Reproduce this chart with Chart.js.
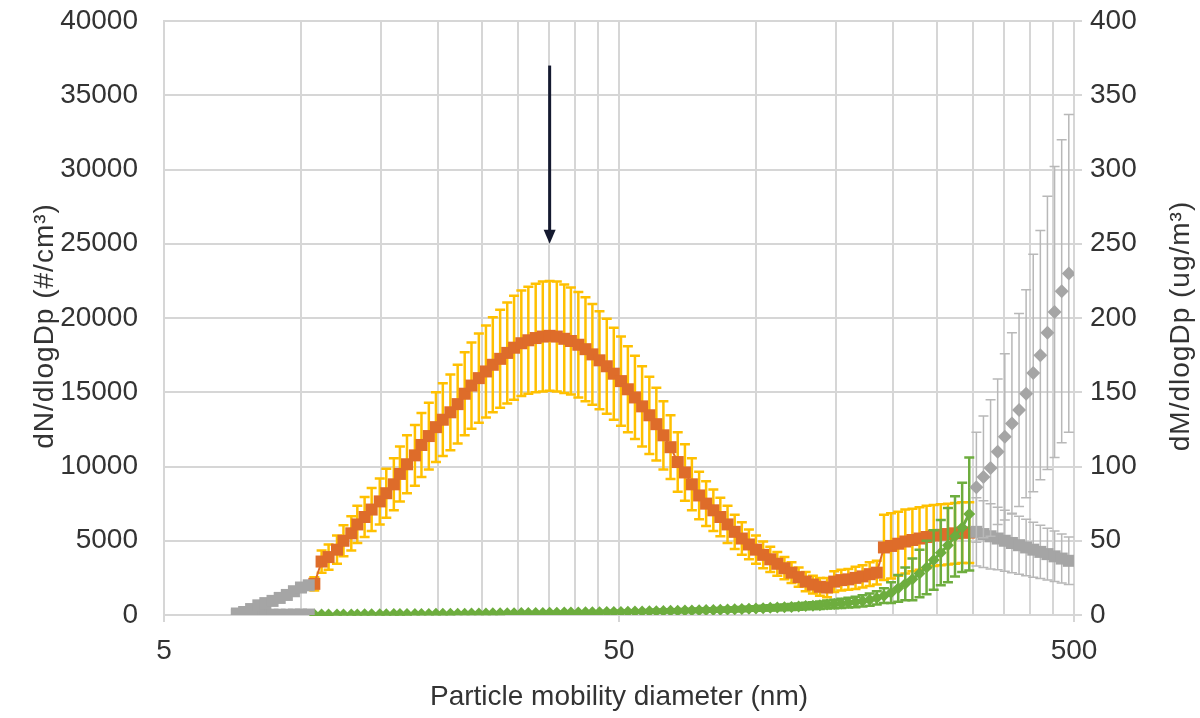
<!DOCTYPE html>
<html>
<head>
<meta charset="utf-8">
<title>Particle size distribution</title>
<script src="https://cdn.jsdelivr.net/npm/chart.js@4.4.1/dist/chart.umd.min.js"></script>
<style>
  html, body { margin: 0; padding: 0; background: #fff; }
  #wrap { width: 1200px; height: 718px; }
</style>
</head>
<body>
<div id="wrap"><canvas id="chart" width="1200" height="718"></canvas></div>
<script>
// SMPS channel diameters (nm), 64 per decade
var smallDiam = [7.23, 7.50, 7.77, 8.06, 8.35, 8.66, 8.98, 9.31, 9.65, 10.0, 10.4];
var mainDiam = [10.7, 11.1, 11.5, 12.0, 12.4, 12.9, 13.3, 13.8, 14.3, 14.9,
  15.4, 16.0, 16.5, 17.1, 17.8, 18.4, 19.1, 19.8, 20.5, 21.3,
  22.1, 22.9, 23.7, 24.6, 25.5, 26.4, 27.4, 28.4, 29.4, 30.5,
  31.6, 32.8, 34.0, 35.2, 36.5, 37.9, 39.2, 40.7, 42.2, 43.7,
  45.3, 47.0, 48.7, 50.5, 52.3, 54.2, 56.2, 58.3, 60.4, 62.6,
  64.9, 67.3, 69.8, 72.3, 75.0, 77.7, 80.6, 83.5, 86.6, 89.8,
  93.1, 96.5, 100.0, 103.7, 107.5, 111.4, 115.5, 119.7, 124.1, 128.6,
  133.4, 138.2, 143.3, 148.6, 154.0, 159.6, 165.5, 171.5, 177.8, 184.3,
  191.1, 198.1, 205.4, 212.9, 220.7, 228.8, 237.1, 245.8, 254.8, 264.2,
  273.8, 283.9, 294.3];
var largeDiam = [305.1, 316.2, 327.8, 339.8, 352.3, 365.2, 378.6, 392.4, 406.8, 421.7, 437.1, 453.2, 469.8, 487.0];

// number distribution dN/dlogDp (#/cm3) and its spread
var numMain = [2100, 3600, 3900, 4400, 5000, 5500, 6100, 6600, 7100, 7650,
  8200, 8800, 9500, 10150, 10750, 11450, 12050, 12650, 13150, 13650,
  14200, 14900, 15450, 15950, 16400, 16850, 17250, 17650, 18000, 18300,
  18500, 18650, 18750, 18800, 18750, 18600, 18450, 18200, 17900, 17550,
  17150, 16750, 16250, 15750, 15200, 14650, 14050, 13450, 12850, 12100,
  11300, 10300, 9600, 8800, 8050, 7500, 7050, 6600, 6100, 5600,
  5150, 4750, 4400, 4050, 3750, 3450, 3150, 2850, 2550, 2250,
  2050, 1900, 1850, 2250, 2350, 2400, 2500, 2600, 2750, 2850,
  4550, 4650, 4800, 4950, 5050, 5150, 5250, 5350, 5400, 5450,
  5500, 5550, 5550];
var numMainErr = [450, 750, 850, 950, 1050, 1150, 1250, 1350, 1450, 1550,
  1650, 1750, 1850, 1950, 2050, 2150, 2250, 2350, 2450, 2550,
  2650, 2800, 2900, 3000, 3100, 3200, 3300, 3400, 3500, 3550,
  3600, 3650, 3700, 3700, 3700, 3650, 3600, 3550, 3500, 3400,
  3300, 3200, 3100, 3000, 2900, 2800, 2700, 2600, 2450, 2300,
  2150, 2000, 1900, 1750, 1600, 1500, 1400, 1300, 1250, 1150,
  1100, 1000, 950, 900, 850, 800, 750, 700, 650, 650,
  600, 600, 650, 700, 700, 700, 750, 750, 800, 800,
  2200, 2200, 2150, 2150, 2100, 2100, 2100, 2050, 2050, 2050,
  2050, 2050, 2050];

// mass distribution dM/dlogDp (ug/m3) and its spread
var massMain = [0.3, 0.3, 0.3, 0.4, 0.4, 0.4, 0.4, 0.5, 0.5, 0.5,
  0.5, 0.6, 0.6, 0.6, 0.7, 0.7, 0.7, 0.8, 0.8, 0.8,
  0.9, 0.9, 1.0, 1.0, 1.0, 1.1, 1.1, 1.2, 1.2, 1.3,
  1.3, 1.4, 1.4, 1.5, 1.5, 1.6, 1.6, 1.7, 1.8, 1.8,
  1.9, 2.0, 2.0, 2.1, 2.2, 2.3, 2.4, 2.5, 2.6, 2.7,
  2.8, 2.9, 3.0, 3.1, 3.2, 3.3, 3.4, 3.5, 3.7, 3.8,
  4.0, 4.2, 4.4, 4.6, 4.8, 5.0, 5.2, 5.4, 5.7, 6.0,
  6.3, 6.6, 7.0, 7.4, 7.8, 8.3, 8.8, 9.5, 10.3, 11.5,
  13, 15, 18, 21, 24, 28, 32, 37, 42, 47,
  53, 59, 68];
var massMainErr = [0.1, 0.1, 0.1, 0.1, 0.1, 0.1, 0.1, 0.1, 0.2, 0.2,
  0.2, 0.2, 0.2, 0.2, 0.2, 0.2, 0.2, 0.3, 0.3, 0.3,
  0.3, 0.3, 0.3, 0.3, 0.3, 0.4, 0.4, 0.4, 0.4, 0.4,
  0.4, 0.5, 0.5, 0.5, 0.5, 0.5, 0.5, 0.6, 0.6, 0.6,
  0.6, 0.7, 0.7, 0.7, 0.7, 0.8, 0.8, 0.8, 0.9, 0.9,
  0.9, 1.0, 1.0, 1.0, 1.1, 1.1, 1.2, 1.2, 1.3, 1.3,
  1.4, 1.4, 1.5, 1.6, 1.7, 1.8, 1.9, 2.0, 2.1, 2.2,
  2.3, 2.5, 2.7, 2.9, 3.1, 3.3, 3.5, 3.8, 4.1, 4.5,
  5, 7, 9, 11, 14, 16, 18, 20, 22, 25,
  27, 30, 38];

// channels outside the valid range (grey)
var numSmall = [100, 200, 400, 650, 800, 950, 1150, 1350, 1600, 1850, 2000];
var massSmall = [0.1, 0.1, 0.1, 0.2, 0.2, 0.2, 0.2, 0.2, 0.3, 0.3, 0.3];
var numLarge = [5600, 5450, 5300, 5150, 5000, 4850, 4700, 4550, 4400, 4250, 4100, 3950, 3800, 3650];
var numLargeErr = [2300, 2250, 2200, 2100, 2050, 2000, 1950, 1900, 1850, 1800, 1750, 1700, 1650, 1600];
var massLarge = [86, 93, 99, 110, 120, 129, 138, 149, 163, 175, 190, 204, 218, 230];
var massLargeErr = [37, 41, 46, 49, 56, 61, 65, 70, 80, 84, 92, 98, 102, 107];

// x axis grid positions and which of them get a label
var gridTicks = [5, 10, 15, 20, 25, 30, 35, 40, 45, 50, 100, 150, 200, 250, 300, 350, 400, 450, 500];
var labelTicks = [5, 50, 500];

var leftTitle = 'dN/dlogDp (#/cm³)';
var rightTitle = 'dM/dlogDp (ug/m³)';

// mode marker
var arrowAt = 35.2, arrowFrom = 37000, arrowTo = 25000;

var ORANGE = '#DE6C2A', YELLOW = '#FFC000', GREEN = '#6DAD3E', GREY = '#A5A5A5', GREY_ERR = '#B8B8B8';
var GRID = '#D6D6D6', TEXT = '#333333';
var FONT = 'Liberation Sans, Arial, sans-serif';

function pts(xs, ys) {
  return xs.map(function(x, i) { return {x: x, y: ys[i]}; });
}

// vertical error bars with caps, drawn just under each series' markers
var errorBars = {
  id: 'errorBars',
  beforeDatasetDraw: function(chart, args) {
    var ds = chart.data.datasets[args.index];
    if (!ds.err) return;
    var ctx = chart.ctx, xs = chart.scales.x, ys = chart.scales[ds.yAxisID];
    ctx.save();
    ctx.strokeStyle = ds.errColor;
    ctx.lineWidth = ds.errWidth;
    ds.data.forEach(function(p, i) {
      var x = xs.getPixelForValue(p.x);
      var hi = ys.getPixelForValue(p.y + ds.err[i]);
      var lo = ys.getPixelForValue(Math.max(0, p.y - ds.err[i]));
      ctx.beginPath();
      ctx.moveTo(x, hi); ctx.lineTo(x, lo);
      ctx.moveTo(x - 5, hi); ctx.lineTo(x + 5, hi);
      ctx.moveTo(x - 5, lo); ctx.lineTo(x + 5, lo);
      ctx.stroke();
    });
    ctx.restore();
  }
};

var arrow = {
  id: 'arrow',
  afterDatasetsDraw: function(chart) {
    var ctx = chart.ctx;
    var x = chart.scales.x.getPixelForValue(arrowAt);
    var y1 = chart.scales.y.getPixelForValue(arrowFrom);
    var y2 = chart.scales.y.getPixelForValue(arrowTo);
    ctx.save();
    ctx.strokeStyle = '#151a30';
    ctx.fillStyle = '#151a30';
    ctx.lineWidth = 3;
    ctx.beginPath(); ctx.moveTo(x, y1); ctx.lineTo(x, y2 - 10); ctx.stroke();
    ctx.beginPath(); ctx.moveTo(x - 6, y2 - 14); ctx.lineTo(x + 6, y2 - 14); ctx.lineTo(x, y2); ctx.closePath(); ctx.fill();
    ctx.restore();
  }
};

// both value-axis titles read bottom to top
var sideTitles = {
  id: 'sideTitles',
  afterDraw: function(chart) {
    var ctx = chart.ctx, a = chart.chartArea;
    var midY = (a.top + a.bottom) / 2 + 8;
    ctx.save();
    ctx.fillStyle = TEXT;
    ctx.font = '28px ' + FONT;
    ctx.textAlign = 'center';
    ctx.textBaseline = 'middle';
    if ('letterSpacing' in ctx) ctx.letterSpacing = '1px';
    [[45, leftTitle], [1181, rightTitle]].forEach(function(t) {
      ctx.save();
      ctx.translate(t[0], midY);
      ctx.rotate(-Math.PI / 2);
      ctx.fillText(t[1], 0, 0);
      ctx.restore();
    });
    ctx.restore();
  }
};

var datasets = [
  { data: pts(mainDiam, numMain), yAxisID: 'y', order: 5,
    borderColor: ORANGE, backgroundColor: ORANGE, borderWidth: 2,
    pointStyle: 'rect', pointRadius: 8.5, pointBorderWidth: 0,
    err: numMainErr, errColor: YELLOW, errWidth: 2.5 },
  { data: pts(mainDiam, massMain), yAxisID: 'y2', order: 4,
    borderColor: GREEN, backgroundColor: GREEN, borderWidth: 3,
    pointStyle: 'rectRot', pointRadius: 6, pointBorderWidth: 0,
    err: massMainErr, errColor: GREEN, errWidth: 2.5 },
  { data: pts(smallDiam, numSmall), yAxisID: 'y', order: 3,
    borderColor: GREY, backgroundColor: GREY, borderWidth: 2,
    pointStyle: 'rect', pointRadius: 8.5, pointBorderWidth: 0 },
  { data: pts(smallDiam, massSmall), yAxisID: 'y2', order: 3,
    borderColor: GREY, backgroundColor: GREY, borderWidth: 2,
    pointStyle: 'rect', pointRadius: 8.5, pointBorderWidth: 0 },
  { data: pts(largeDiam, numLarge), yAxisID: 'y', order: 3,
    borderColor: GREY, backgroundColor: GREY, borderWidth: 2,
    pointStyle: 'rect', pointRadius: 8.5, pointBorderWidth: 0,
    err: numLargeErr, errColor: GREY_ERR, errWidth: 1.5 },
  { data: pts(largeDiam, massLarge), yAxisID: 'y2', order: 2, showLine: false,
    borderColor: GREY, backgroundColor: GREY,
    pointStyle: 'rectRot', pointRadius: 7, pointBorderWidth: 0,
    err: massLargeErr, errColor: GREY_ERR, errWidth: 1.5 }
];

function plain(v) { return String(v); }

// keep tick padding from pushing the plot area down
function noVerticalPadding(s) { s.paddingTop = 0; s.paddingBottom = 0; }

new Chart(document.getElementById('chart'), {
  type: 'line',
  data: { datasets: datasets },
  plugins: [errorBars, arrow, sideTitles],
  options: {
    responsive: false,
    devicePixelRatio: 1,
    animation: false,
    layout: { padding: { top: 21, left: 0, right: 0, bottom: 0 } },
    plugins: { legend: { display: false }, tooltip: { enabled: false } },
    scales: {
      x: {
        type: 'logarithmic', min: 5, max: 500,
        afterBuildTicks: function(s) { s.ticks = gridTicks.map(function(v) { return {value: v}; }); },
        afterFit: function(s) { s.height = 103; },
        ticks: {
          autoSkip: false, maxRotation: 0, padding: 12, color: TEXT,
          font: { family: FONT, size: 28 },
          callback: function(v) { return labelTicks.indexOf(v) >= 0 ? String(v) : ''; }
        },
        grid: {
          color: GRID, lineWidth: 2, drawTicks: true, tickLength: 7,
          tickColor: function(c) { return c.tick && labelTicks.indexOf(c.tick.value) >= 0 ? GRID : 'rgba(0,0,0,0)'; }
        },
        border: { color: GRID, width: 2 },
        title: { display: true, text: 'Particle mobility diameter (nm)', color: TEXT,
          font: { family: FONT, size: 28 }, padding: { top: 4 } }
      },
      y: {
        position: 'left', min: 0, max: 40000,
        afterFit: function(s) { s.width = 164; noVerticalPadding(s); },
        ticks: { stepSize: 5000, padding: 26, color: TEXT, font: { family: FONT, size: 28 }, callback: plain },
        grid: { color: GRID, lineWidth: 2, drawTicks: false },
        border: { color: GRID, width: 2 }
      },
      y2: {
        position: 'right', min: 0, max: 400,
        afterFit: function(s) { s.width = 126; noVerticalPadding(s); },
        ticks: { stepSize: 50, padding: 8, color: TEXT, font: { family: FONT, size: 28 }, callback: plain },
        grid: { drawOnChartArea: false, color: GRID, lineWidth: 2, drawTicks: true, tickLength: 8 },
        border: { color: GRID, width: 2 }
      }
    }
  }
});
</script>
</body>
</html>
